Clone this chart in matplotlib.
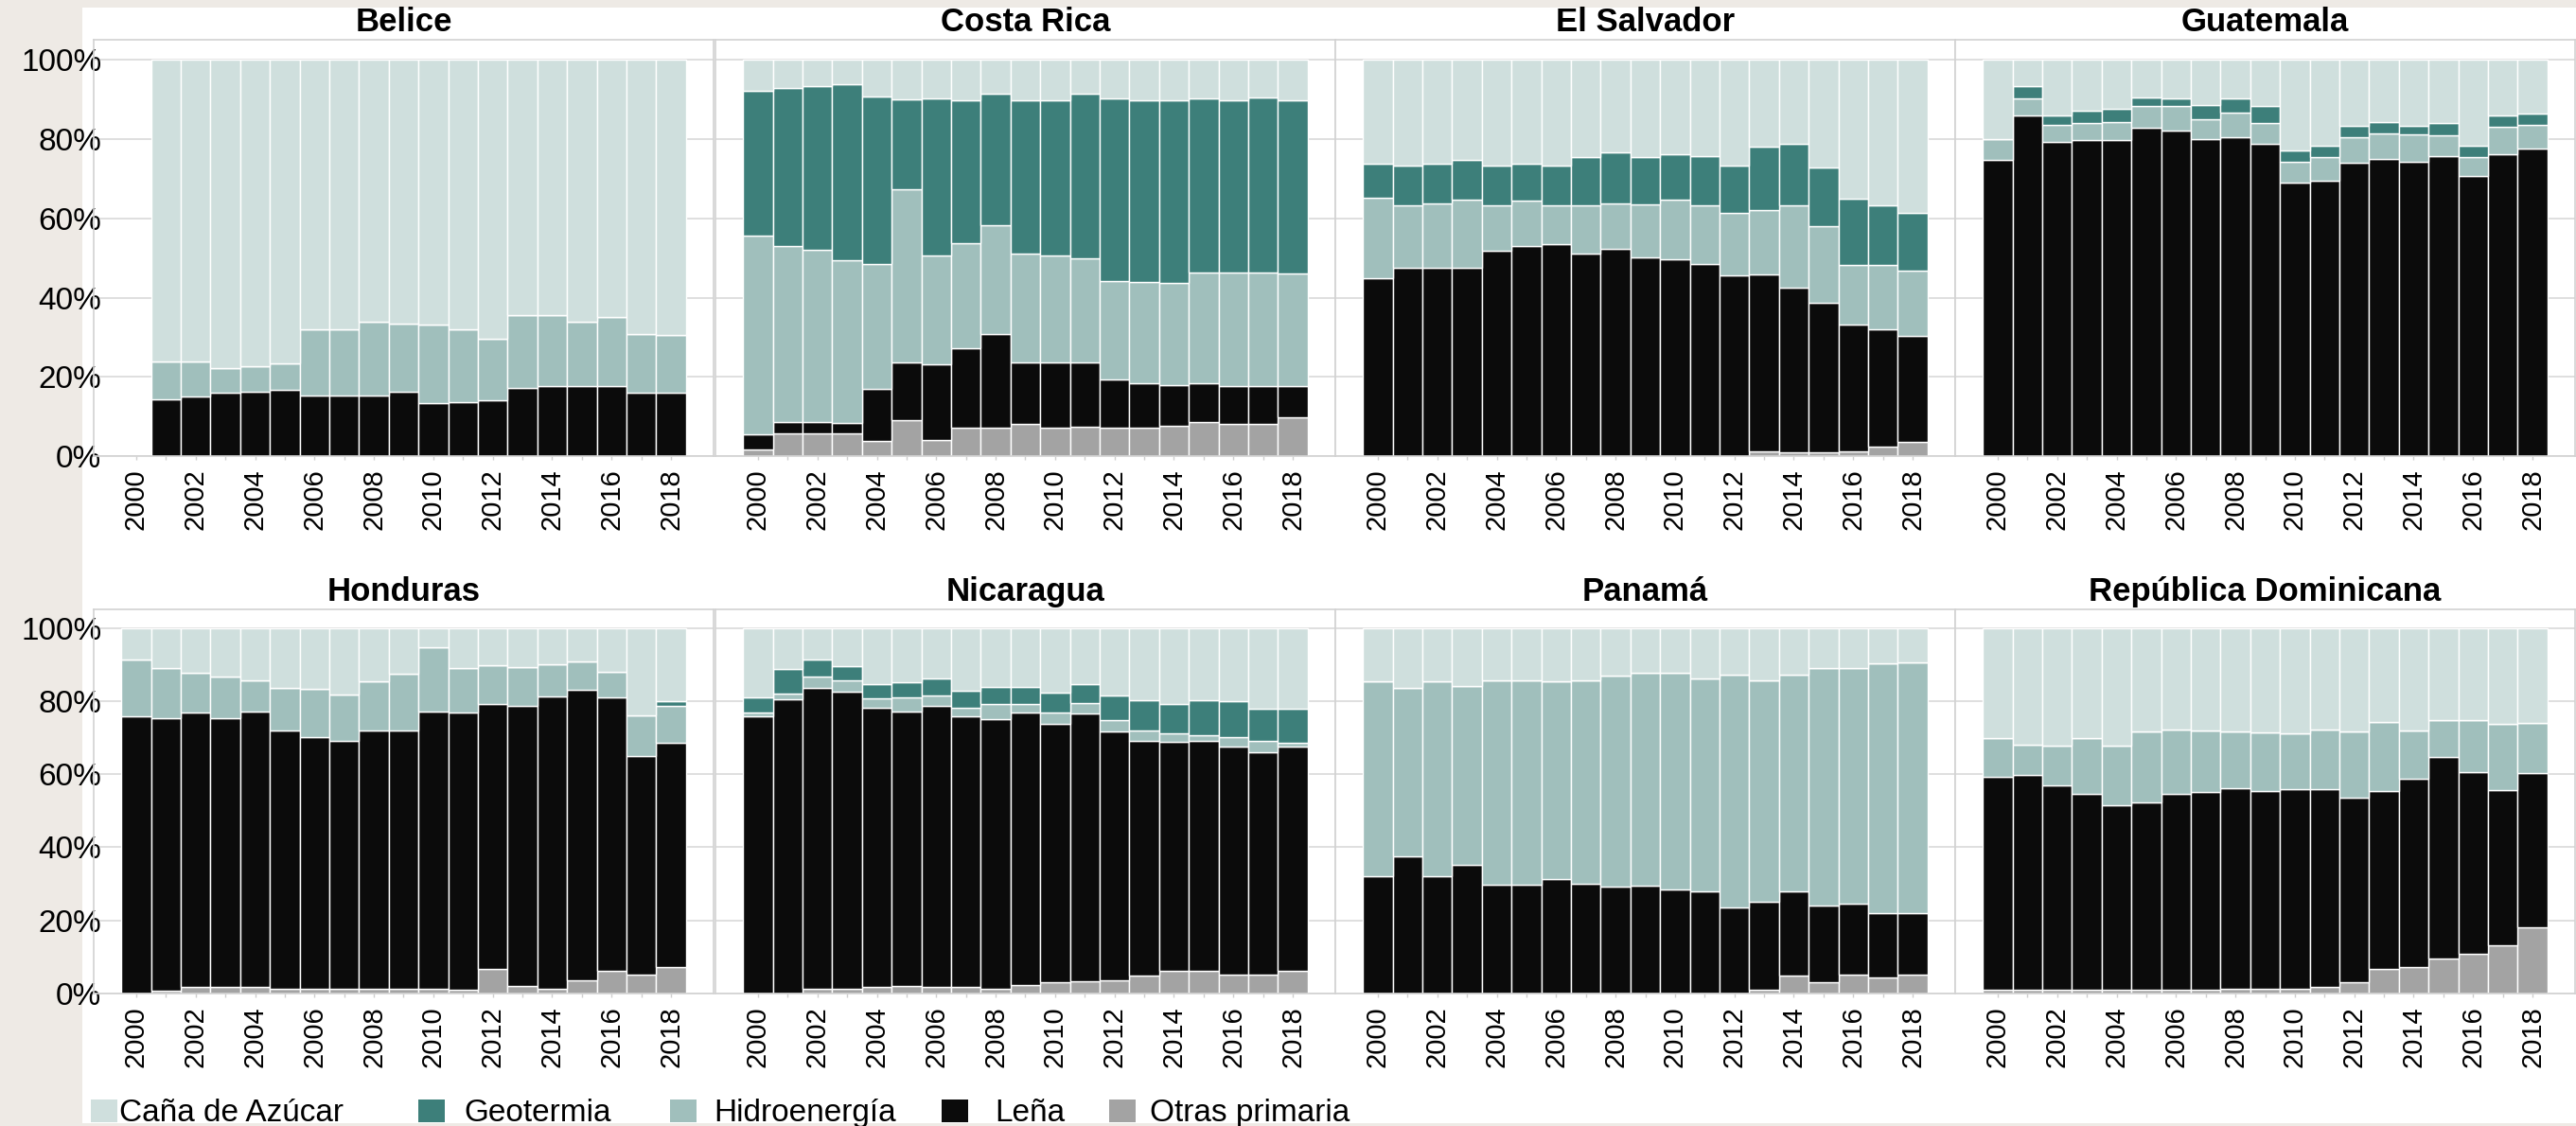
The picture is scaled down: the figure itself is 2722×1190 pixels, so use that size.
import numpy as np
import matplotlib
matplotlib.use("Agg")
import matplotlib.pyplot as plt
from matplotlib.patches import Rectangle

plt.rcParams['font.family'] = ['Liberation Sans', 'DejaVu Sans']

nan = float('nan')
years = [2000, 2001, 2002, 2003, 2004, 2005, 2006, 2007, 2008, 2009,
         2010, 2011, 2012, 2013, 2014, 2015, 2016, 2017, 2018]
year_labels = ["2000", "", "2002", "", "2004", "", "2006", "", "2008", "",
               "2010", "", "2012", "", "2014", "", "2016", "", "2018"]
y_ticks = [0, 20, 40, 60, 80, 100]
y_tick_labels = ["0%", "20%", "40%", "60%", "80%", "100%"]

categories = ["Caña de Azúcar", "Geotermia", "Hidroenergía", "Leña", "Otras primaria"]
cat_colors = ["#cfdfdd", "#3d7f7a", "#a0bfbc", "#0b0b0b", "#a3a3a3"]

# ---------------- data (% of primary renewable supply) ----------------
# Belice (no data for 2000)
otras_bz = [nan, 0, 0, 0, 0, 0, 0, 0, 0, 0, 0, 0, 0, 0, 0, 0, 0, 0, 0]
lena_bz = [nan, 14.3, 15.0, 15.9, 16.3, 16.7, 15.4, 15.4, 15.4, 16.3, 13.3, 13.6, 14.0, 17.3, 17.7, 17.7, 17.7, 15.9, 16.1]
hidro_bz = [nan, 9.7, 9.0, 6.4, 6.4, 6.6, 16.6, 16.6, 18.6, 17.1, 19.9, 18.3, 15.7, 18.4, 18.0, 16.1, 17.4, 14.9, 14.5]
geo_bz = [nan, 0, 0, 0, 0, 0, 0, 0, 0, 0, 0, 0, 0, 0, 0, 0, 0, 0, 0]
cana_bz = [nan, 76.0, 76.0, 77.7, 77.3, 76.7, 68.0, 68.0, 66.0, 66.6, 66.8, 68.1, 70.3, 64.3, 64.3, 66.2, 64.9, 69.2, 69.4]

# Costa Rica
otras_cr = [1.7, 5.8, 5.8, 5.8, 3.9, 9.0, 4.0, 7.1, 7.1, 8.1, 7.1, 7.3, 7.1, 7.1, 7.7, 8.6, 8.1, 8.1, 9.9]
lena_cr = [3.9, 2.9, 2.9, 2.5, 13.0, 14.7, 19.1, 20.1, 23.6, 15.5, 16.6, 16.4, 12.2, 11.3, 10.3, 9.8, 9.5, 9.5, 7.7]
hidro_cr = [50.1, 44.4, 43.3, 41.1, 31.5, 43.6, 27.5, 26.6, 27.6, 27.6, 26.9, 26.3, 24.8, 25.6, 25.7, 28.0, 28.7, 28.7, 28.4]
geo_cr = [36.6, 39.9, 41.4, 44.4, 42.4, 22.8, 39.8, 35.9, 33.1, 38.5, 39.1, 41.6, 46.3, 45.7, 46.0, 44.0, 43.5, 44.3, 43.7]
cana_cr = [7.7, 7.0, 6.6, 6.2, 9.2, 9.9, 9.6, 10.3, 8.6, 10.3, 10.3, 8.4, 9.6, 10.3, 10.3, 9.6, 10.2, 9.4, 10.3]

# El Salvador
otras_sv = [0, 0, 0, 0, 0, 0, 0, 0, 0, 0, 0, 0, 0, 1.3, 0.9, 1.0, 1.3, 2.3, 3.6]
lena_sv = [44.8, 47.6, 47.6, 47.6, 51.8, 53.1, 53.6, 51.0, 52.4, 50.1, 49.7, 48.4, 45.7, 44.5, 41.7, 37.6, 31.9, 29.8, 26.8]
hidro_sv = [20.3, 15.6, 16.2, 17.1, 11.6, 11.3, 9.8, 12.4, 11.3, 13.5, 15.0, 14.8, 15.7, 16.2, 20.8, 19.4, 15.0, 16.1, 16.5]
geo_sv = [8.6, 10.2, 9.9, 10.1, 10.0, 9.3, 10.0, 12.2, 13.0, 12.0, 11.5, 12.6, 12.0, 16.2, 15.4, 14.8, 16.7, 15.0, 14.5]
cana_sv = [26.3, 26.6, 26.3, 25.2, 26.6, 26.3, 26.6, 24.4, 23.3, 24.4, 23.8, 24.2, 26.6, 21.8, 21.2, 27.2, 35.1, 36.8, 38.6]

# Guatemala
otras_gt = [0, 0, 0, 0, 0, 0, 0, 0, 0, 0, 0, 0, 0, 0, 0, 0, 0, 0, 0]
lena_gt = [74.8, 86.1, 79.3, 79.7, 79.7, 82.9, 82.1, 80.1, 80.4, 78.8, 69.0, 69.6, 74.1, 75.1, 74.3, 75.7, 70.7, 76.3, 77.7]
hidro_gt = [5.3, 4.3, 4.2, 4.3, 4.5, 5.4, 6.3, 5.0, 6.4, 5.2, 5.3, 5.8, 6.4, 6.4, 6.8, 5.2, 4.7, 6.8, 6.0]
geo_gt = [0, 3.0, 2.5, 3.3, 3.5, 2.3, 2.0, 3.6, 3.6, 4.3, 2.8, 3.0, 2.9, 2.7, 2.3, 3.1, 3.0, 2.8, 2.8]
cana_gt = [19.9, 6.6, 14.0, 12.7, 12.3, 9.4, 9.6, 11.3, 9.6, 11.7, 22.9, 21.6, 16.6, 15.8, 16.6, 16.0, 21.6, 14.1, 13.5]

# Honduras
otras_hn = [0, 0.9, 1.7, 1.7, 1.7, 1.4, 1.4, 1.4, 1.4, 1.4, 1.4, 1.0, 6.8, 2.0, 1.4, 3.7, 6.1, 5.1, 7.3]
lena_hn = [75.8, 74.4, 75.1, 73.7, 75.5, 70.6, 68.8, 67.6, 70.6, 70.6, 75.8, 75.8, 72.3, 76.6, 80.0, 79.4, 74.8, 60.0, 61.2]
hidro_hn = [15.6, 13.7, 10.9, 11.3, 8.6, 11.6, 13.1, 12.8, 13.3, 15.4, 17.5, 12.2, 10.8, 10.8, 8.8, 7.8, 7.1, 10.9, 10.1]
geo_hn = [0, 0, 0, 0, 0, 0, 0, 0, 0, 0, 0, 0, 0, 0, 0, 0, 0, 0, 1.5]
cana_hn = [8.6, 11.0, 12.3, 13.3, 14.2, 16.4, 16.7, 18.2, 14.7, 12.6, 5.3, 11.0, 10.1, 10.6, 9.8, 9.1, 12.0, 24.0, 19.9]

# Nicaragua
otras_ni = [0, 0, 1.2, 1.2, 1.7, 2.0, 1.9, 1.9, 1.4, 2.4, 3.0, 3.4, 3.7, 4.8, 6.1, 6.1, 5.3, 5.3, 6.1]
lena_ni = [75.8, 80.6, 82.4, 81.5, 76.6, 75.2, 76.9, 73.9, 73.6, 74.6, 70.8, 73.2, 67.9, 64.4, 62.7, 63.1, 62.3, 60.8, 61.4]
hidro_ni = [1.2, 1.5, 3.1, 3.0, 2.5, 3.7, 2.8, 2.3, 4.1, 2.3, 3.2, 3.0, 3.2, 2.8, 2.3, 1.4, 2.6, 2.9, 1.0]
geo_ni = [4.1, 6.6, 4.7, 3.8, 3.8, 4.2, 4.7, 4.7, 4.7, 4.5, 5.3, 5.0, 6.8, 8.3, 8.2, 9.7, 9.7, 8.9, 9.4]
cana_ni = [18.9, 11.3, 8.6, 10.5, 15.4, 14.9, 13.7, 17.2, 16.2, 16.2, 17.7, 15.4, 18.4, 19.7, 20.7, 19.7, 20.1, 22.1, 22.1]

# Panamá
otras_pa = [0, 0, 0, 0, 0, 0, 0, 0, 0, 0, 0, 0, 0, 1.0, 4.8, 3.2, 5.1, 4.4, 5.3]
lena_pa = [32.0, 37.6, 32.0, 35.1, 29.7, 29.7, 31.2, 30.0, 29.2, 29.5, 28.5, 28.0, 23.5, 24.0, 23.2, 20.8, 19.4, 17.7, 16.8]
hidro_pa = [53.3, 46.0, 53.3, 49.0, 56.1, 56.1, 54.1, 55.8, 57.7, 58.2, 59.2, 58.3, 63.7, 60.6, 59.2, 65.0, 64.5, 68.3, 68.6]
geo_pa = [0, 0, 0, 0, 0, 0, 0, 0, 0, 0, 0, 0, 0, 0, 0, 0, 0, 0, 0]
cana_pa = [14.7, 16.4, 14.7, 15.9, 14.2, 14.2, 14.7, 14.2, 13.1, 12.3, 12.3, 13.7, 12.8, 14.4, 12.8, 11.0, 11.0, 9.6, 9.3]

# República Dominicana
otras_do = [1.0, 1.0, 1.0, 1.0, 1.0, 1.0, 1.0, 1.0, 1.4, 1.4, 1.4, 1.9, 3.2, 6.8, 7.3, 9.6, 10.8, 13.1, 18.2]
lena_do = [58.4, 58.9, 56.0, 53.6, 50.6, 51.3, 53.6, 54.1, 54.7, 53.9, 54.4, 53.9, 50.3, 48.5, 51.5, 55.1, 49.9, 42.5, 42.2]
hidro_do = [10.4, 8.3, 10.9, 15.2, 16.3, 19.4, 17.6, 16.8, 15.5, 16.1, 15.3, 16.4, 18.2, 19.0, 13.2, 10.1, 14.1, 18.1, 13.6]
geo_do = [0, 0, 0, 0, 0, 0, 0, 0, 0, 0, 0, 0, 0, 0, 0, 0, 0, 0, 0]
cana_do = [30.2, 31.8, 32.1, 30.2, 32.1, 28.3, 27.8, 28.1, 28.4, 28.6, 28.9, 27.8, 28.3, 25.7, 28.0, 25.2, 25.2, 26.3, 26.0]

countries = ["Belice", "Costa Rica", "El Salvador", "Guatemala",
             "Honduras", "Nicaragua", "Panamá", "República Dominicana"]
# stacking order, bottom -> top: Otras, Leña, Hidro, Geo, Caña
series = {
    "Belice": [otras_bz, lena_bz, hidro_bz, geo_bz, cana_bz],
    "Costa Rica": [otras_cr, lena_cr, hidro_cr, geo_cr, cana_cr],
    "El Salvador": [otras_sv, lena_sv, hidro_sv, geo_sv, cana_sv],
    "Guatemala": [otras_gt, lena_gt, hidro_gt, geo_gt, cana_gt],
    "Honduras": [otras_hn, lena_hn, hidro_hn, geo_hn, cana_hn],
    "Nicaragua": [otras_ni, lena_ni, hidro_ni, geo_ni, cana_ni],
    "Panamá": [otras_pa, lena_pa, hidro_pa, geo_pa, cana_pa],
    "República Dominicana": [otras_do, lena_do, hidro_do, geo_do, cana_do],
}
stack_colors = ["#a3a3a3", "#0b0b0b", "#a0bfbc", "#3d7f7a", "#cfdfdd"]

# ---------------- layout ----------------
W, H = 2722, 1190
fig = plt.figure(figsize=(W / 100, H / 100), dpi=100)
fig.patch.set_facecolor("#eeeae5")
fig.add_artist(Rectangle((87 / W, 1 - 1187 / H), (W - 87) / W, (1187 - 8) / H,
                         transform=fig.transFigure, facecolor="white",
                         edgecolor="none", zorder=0))

col_left = [99, 756, 1411, 2066]
col_w = 655
row_span = [(42, 482), (644, 1050)]
grid_c = "#dcdcdc"
spine_c = "#d2d2d2"

for i, country in enumerate(countries):
    r, c = divmod(i, 4)
    top, bot = row_span[r]
    ax = fig.add_axes([col_left[c] / W, 1 - bot / H, col_w / W, (bot - top) / H])
    ax.set_facecolor("white")
    x = np.array(years, dtype=float)
    bottom = np.zeros(len(years))
    for vals, col in zip(series[country], stack_colors):
        v = np.array(vals, dtype=float)
        m = ~np.isnan(v)
        ax.bar(x[m], v[m], bottom=bottom[m], width=1.0, color=col,
               edgecolor="white", linewidth=1.0, zorder=2)
        bottom = bottom + np.nan_to_num(v)
    ax.set_xlim(1998.57, 2019.43)
    ax.set_ylim(0, 105.1)
    ax.set_yticks(y_ticks)
    ax.yaxis.grid(True, color=grid_c, linewidth=1.3, zorder=0)
    ax.set_axisbelow(True)
    ax.set_xticks(years)
    ax.set_xticklabels(year_labels, rotation=90, fontsize=21)
    ax.tick_params(axis="x", length=3, pad=6.5, color="#cfcfcf", width=1)
    if c == 0:
        ax.set_yticklabels(y_tick_labels, fontsize=24)
        ax.tick_params(axis="y", length=0, pad=-6)
    else:
        ax.tick_params(axis="y", length=0, labelleft=False)
    for s in ax.spines.values():
        s.set_color(spine_c)
        s.set_linewidth(1.2)
    ax.text(0.5, 1.0 + 9 / (bot - top), country, transform=ax.transAxes,
            ha="center", va="baseline", fontsize=25, fontweight="bold")

# ---------------- legend ----------------
patch_x = [96, 442, 708, 995, 1172]
text_x = [126, 490, 754, 1051, 1215]
for lab, col, px, tx in zip(categories, cat_colors, patch_x, text_x):
    fig.add_artist(Rectangle((px / W, 1 - 1186 / H), 28 / W, 24 / H,
                             transform=fig.transFigure, facecolor=col,
                             edgecolor="none"))
    fig.text(tx / W, 1 - 1185 / H, lab, fontsize=24, ha="left", va="baseline")

fig.savefig("out.png", dpi=100, facecolor=fig.get_facecolor())
